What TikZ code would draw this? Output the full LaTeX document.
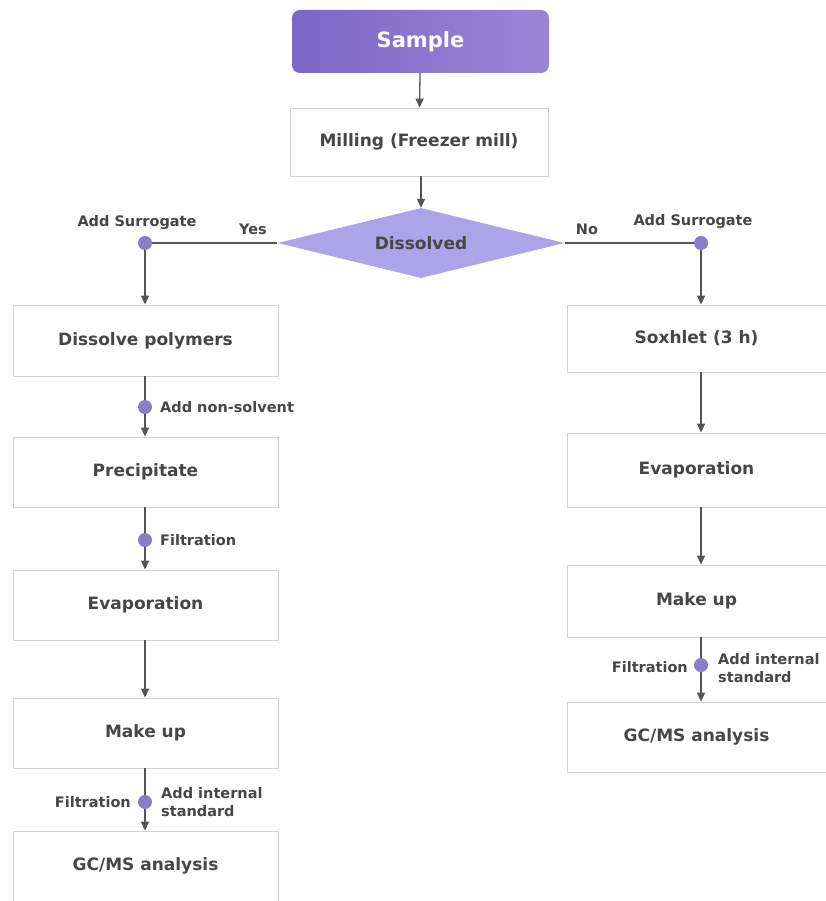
\documentclass[tikz,border=0pt]{standalone}
\usepackage{fontspec}
\setmainfont{DejaVu Sans}
\usetikzlibrary{shapes.geometric,arrows.meta}
\definecolor{txt}{HTML}{464646}
\definecolor{arrc}{HTML}{555555}
\definecolor{dotc}{HTML}{8A7CC8}
\definecolor{samL}{HTML}{7A67C6}
\definecolor{samR}{HTML}{9B86D6}
\definecolor{diac}{HTML}{ACA3E8}
\definecolor{boxb}{HTML}{D4D4D4}
\tikzset{
  boxtext/.style={font=\fontsize{17}{20}\selectfont\bfseries, text=txt},
  lbl/.style={font=\fontsize{14.5}{16}\selectfont\bfseries, text=txt, inner sep=0pt},
  lbltwo/.style={lbl, anchor=west, align=left, font=\fontsize{14.5}{17.5}\selectfont\bfseries},
  stepbox/.style={boxtext, draw=boxb, line width=0.8pt, fill=white, minimum height=70pt, inner sep=0pt},
  lbox/.style={stepbox, minimum width=265pt},
  rbox/.style={stepbox, minimum width=259pt},
  pdot/.style={circle, fill=dotc, minimum size=14pt, inner sep=0pt},
  arr/.style={draw=arrc, line width=1.3pt, -{Triangle[length=9pt,width=8pt]}},
  ln/.style={draw=arrc, line width=1.3pt},
}
\begin{document}
\begin{tikzpicture}[x=1pt,y=-1pt]
\useasboundingbox (0,0) rectangle (826,901);
% top
\node[boxtext, text=white, font=\fontsize{21}{24}\selectfont\bfseries, rounded corners=8pt,
      left color=samL, right color=samR, minimum width=257pt, minimum height=63pt, inner sep=0pt] (sample) at (420.5,41.5) {Sample};
\node[stepbox, minimum width=258pt, minimum height=68pt] (mill) at (419,142) {Milling (Freezer mill)};
\node[diamond, boxtext, fill=diac, minimum width=287pt, minimum height=70pt, aspect=4.1, inner sep=0pt] (diss) at (421,243) {Dissolved};
% left column
\node[pdot] (sl) at (145,243) {};
\node[lbox, minimum height=71pt] (dpoly) at (145.5,340.5) {Dissolve polymers};
\node[pdot] (dns) at (145,407) {};
\node[lbox] (prec) at (145.5,472) {Precipitate};
\node[pdot] (df1) at (145,540) {};
\node[lbox] (evl) at (145.5,605) {Evaporation};
\node[lbox] (mul) at (145.5,733) {Make up};
\node[pdot] (dil) at (145,802) {};
\node[lbox, minimum height=70pt] (gcl) at (145.5,866) {GC/MS analysis};
% right column
\node[pdot] (sr) at (701,243) {};
\node[rbox, minimum height=67pt] (sox) at (696.5,338.5) {Soxhlet (3 h)};
\node[rbox, minimum height=74pt] (evr) at (696.5,470) {Evaporation};
\node[rbox, minimum height=72pt] (mur) at (696.5,601) {Make up};
\node[pdot] (dir) at (701,665) {};
\node[rbox] (gcr) at (696.5,737) {GC/MS analysis};
% labels
\node[lbl] (lsl) at (137,223) {Add Surrogate};
\node[lbl] (lyes) at (253,229) {Yes};
\node[lbl] (lno) at (587,229) {No};
\node[lbl] (lsr) at (693,222) {Add Surrogate};
\node[lbl, anchor=west] (lns) at (160,407) {Add non-solvent};
\node[lbl, anchor=west] (lf1) at (160,540) {Filtration};
\node[lbl, anchor=east] (lf2) at (131,802) {Filtration};
\node[lbltwo] (li2) at (161,802) {Add internal\\standard};
\node[lbl, anchor=east] (lf3) at (688,667) {Filtration};
\node[lbltwo] (li3) at (718,668) {Add internal\\standard};
% connectors
\draw[arr] (sample) -- (mill);
\draw[arr] (mill.south -| diss.north) -- (diss);
\draw[ln] (diss.west) -- (sl);
\draw[ln] (diss.east) -- (sr);
\draw[arr] (sl) -- (sl |- dpoly.north);
\draw[ln] (dpoly.south -| dns) -- (dns);
\draw[arr] (dns) -- (dns |- prec.north);
\draw[ln] (prec.south -| df1) -- (df1);
\draw[arr] (df1) -- (df1 |- evl.north);
\draw[arr] (evl.south -| dil) -- (dil |- mul.north);
\draw[ln] (mul.south -| dil) -- (dil);
\draw[arr] (dil) -- (dil |- gcl.north);
\draw[arr] (sr) -- (sr |- sox.north);
\draw[arr] (sox.south -| sr) -- (sr |- evr.north);
\draw[arr] (evr.south -| sr) -- (sr |- mur.north);
\draw[ln] (mur.south -| dir) -- (dir);
\draw[arr] (dir) -- (dir |- gcr.north);
\end{tikzpicture}
\end{document}
